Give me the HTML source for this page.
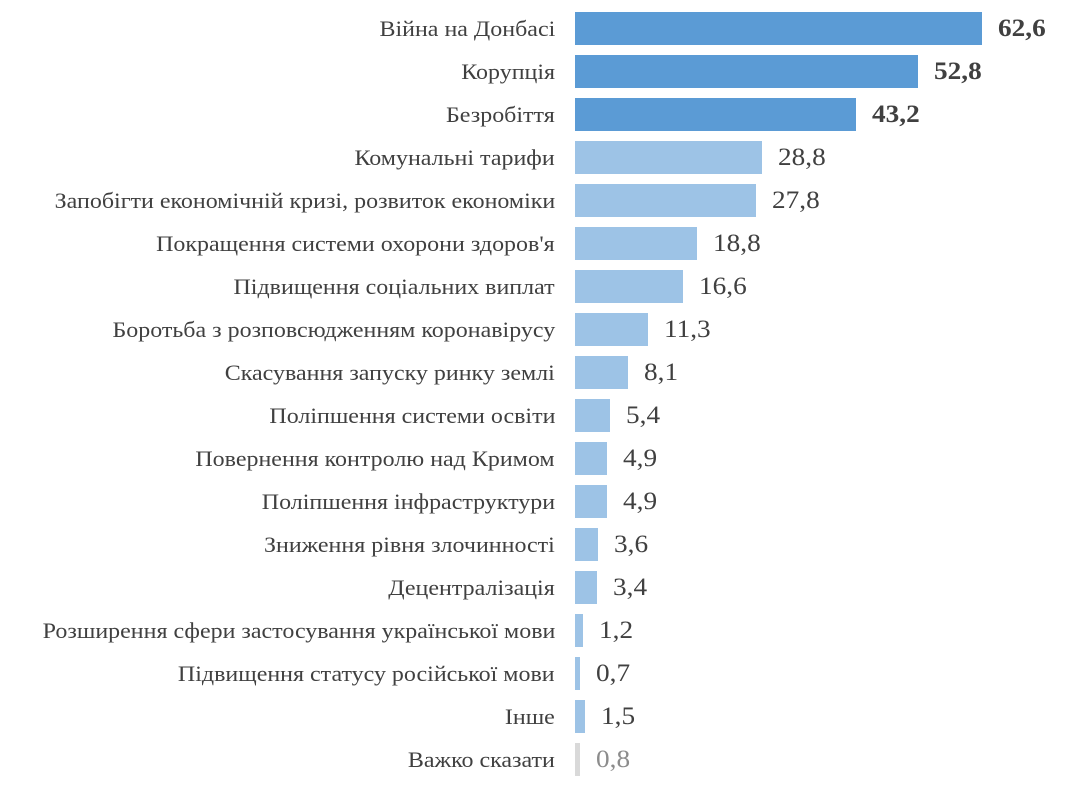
<!DOCTYPE html>
<html><head><meta charset="utf-8"><style>
body{margin:0;width:1067px;height:805px;background:#fff;position:relative;overflow:hidden;font-family:"Liberation Serif",serif}
.l{position:absolute;right:512px;font-size:22px;color:#404040;line-height:33px;white-space:nowrap;transform:scaleX(1.09);transform-origin:right center}
.b{position:absolute;left:575px;height:33px}
.v{position:absolute;font-size:25px;color:#404040;line-height:33px;transform:scaleX(1.09);transform-origin:left center}
</style></head><body>
<script>
const d=[["Війна на Донбасі",62.6],["Корупція",52.8],["Безробіття",43.2],["Комунальні тарифи",28.8],["Запобігти економічній кризі, розвиток економіки",27.8],["Покращення системи охорони здоров'я",18.8],["Підвищення соціальних виплат",16.6],["Боротьба з розповсюдженням коронавірусу",11.3],["Скасування запуску ринку землі",8.1],["Поліпшення системи освіти",5.4],["Повернення контролю над Кримом",4.9],["Поліпшення інфраструктури",4.9],["Зниження рівня злочинності",3.6],["Децентралізація",3.4],["Розширення сфери застосування української мови",1.2],["Підвищення статусу російської мови",0.7],["Інше",1.5],["Важко сказати",0.8]];
let h="";
d.forEach((r,i)=>{const t=12+43*i,w=r[1]*6.5;
const c=i<3?"#5b9bd5":i==17?"#d9d9d9":"#9dc3e6";
const vc=i==17?"#8c8c8c":"#404040";
h+=`<div class="l" style="top:${t}px">${r[0]}</div><div class="b" style="top:${t}px;width:${w}px;background:${c}"></div><div class="v" style="top:${t}px;left:${575+w+16}px;color:${vc};${i<3?'font-weight:bold':''}">${String(r[1].toFixed(1)).replace('.',',')}</div>`;});
document.write(h);
</script>
</body></html>
